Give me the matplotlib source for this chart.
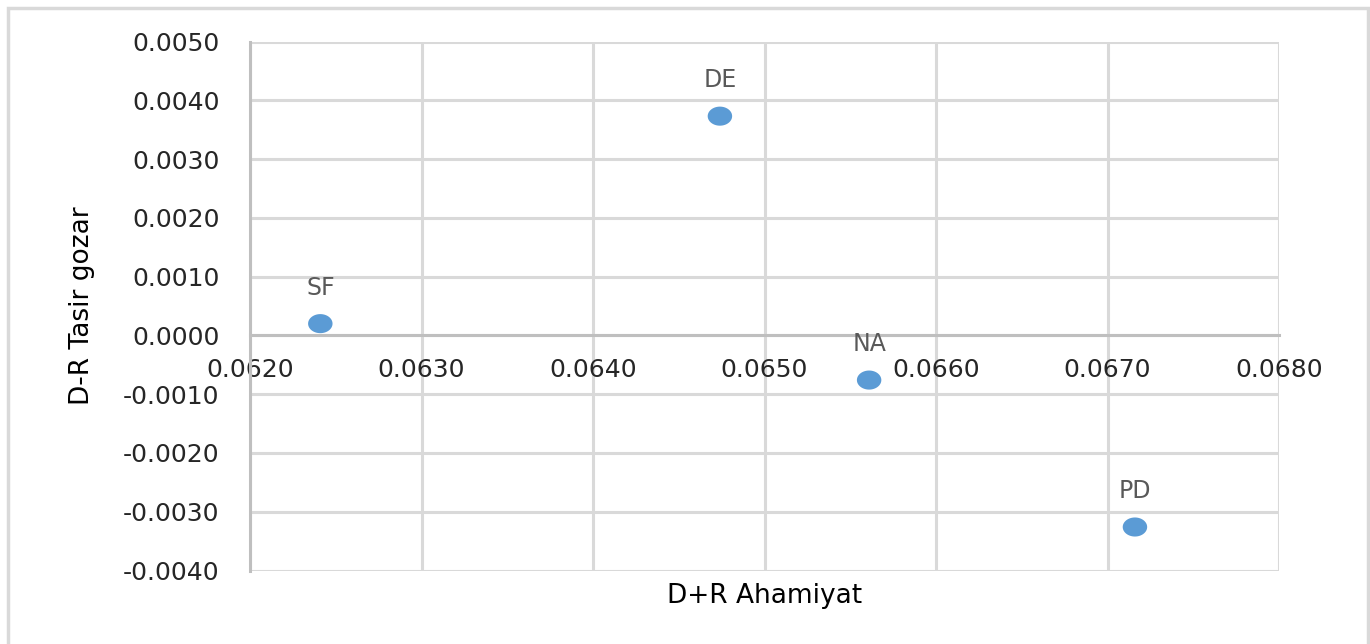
import matplotlib
matplotlib.use("Agg")
import matplotlib.pyplot as plt
import numpy as np
from matplotlib.patches import Rectangle
from matplotlib.path import Path

labels = ["SF", "DE", "NA", "PD"]
x_vals = [0.06241, 0.06474, 0.06561, 0.06716]
y_vals = [0.00020, 0.00373, -0.00076, -0.00326]

x_ticks = [0.062, 0.063, 0.064, 0.065, 0.066, 0.067, 0.068]
y_ticks = [0.005, 0.004, 0.003, 0.002, 0.001, 0.0, -0.001, -0.002, -0.003, -0.004]

W, H = 1370, 644
fig = plt.figure(figsize=(W / 100, H / 100), dpi=100)
fig.patch.set_facecolor("white")

# outer chart border
fig.patches.append(Rectangle((8 / W, -0.05), (1368 - 8) / W, 1.05 - 8 / H,
                             transform=fig.transFigure, fill=False,
                             edgecolor="#d9d9d9", linewidth=2.5, zorder=0))

left, right, top, bottom = 250, 1279, 41.5, 570.5
ax = fig.add_axes([left / W, 1 - bottom / H, (right - left) / W, (bottom - top) / H])

ax.set_xlim(0.062, 0.068)
ax.set_ylim(-0.004, 0.005)
ax.set_xticks(x_ticks)
ax.set_yticks(y_ticks)
ax.set_xticklabels([f"{v:.4f}" for v in x_ticks])
ax.set_yticklabels([f"{v:.4f}" for v in y_ticks])

ax.grid(True, color="#d9d9d9", linewidth=2.2, zorder=0)
ax.set_axisbelow(True)

for s in ["top", "right"]:
    ax.spines[s].set_visible(False)
ax.spines["left"].set_color("#bfbfbf")
ax.spines["left"].set_linewidth(2.2)
ax.spines["bottom"].set_position(("data", 0))
ax.spines["bottom"].set_color("#bfbfbf")
ax.spines["bottom"].set_linewidth(2.2)

ax.tick_params(axis="both", length=0, labelsize=18, labelcolor="#262626")
ax.tick_params(axis="x", pad=16)
ax.tick_params(axis="y", pad=22)

# slightly wide ellipse marker (reference image is horizontally stretched)
t = np.linspace(0, 2 * np.pi, 60)
ell = Path(np.column_stack([np.cos(t), 0.78 * np.sin(t)]), closed=True)

ax.scatter(x_vals, y_vals, s=310, marker=ell, color="#5b9bd5", zorder=3,
           edgecolors="none")
for lx, ly, lab in zip(x_vals, y_vals, labels):
    ax.annotate(lab, (lx, ly), xytext=(0, 26), textcoords="offset points",
                ha="center", va="center", fontsize=17, color="#595959")

fig.text(765 / W, 1 - 596 / H, "D+R Ahamiyat", ha="center", va="center",
         fontsize=19, color="#000000")
fig.text(82 / W, 1 - 306 / H, "D-R Tasir gozar", ha="center", va="center",
         rotation=90, fontsize=19, color="#000000")

fig.savefig("out.png", dpi=100, facecolor="white")
